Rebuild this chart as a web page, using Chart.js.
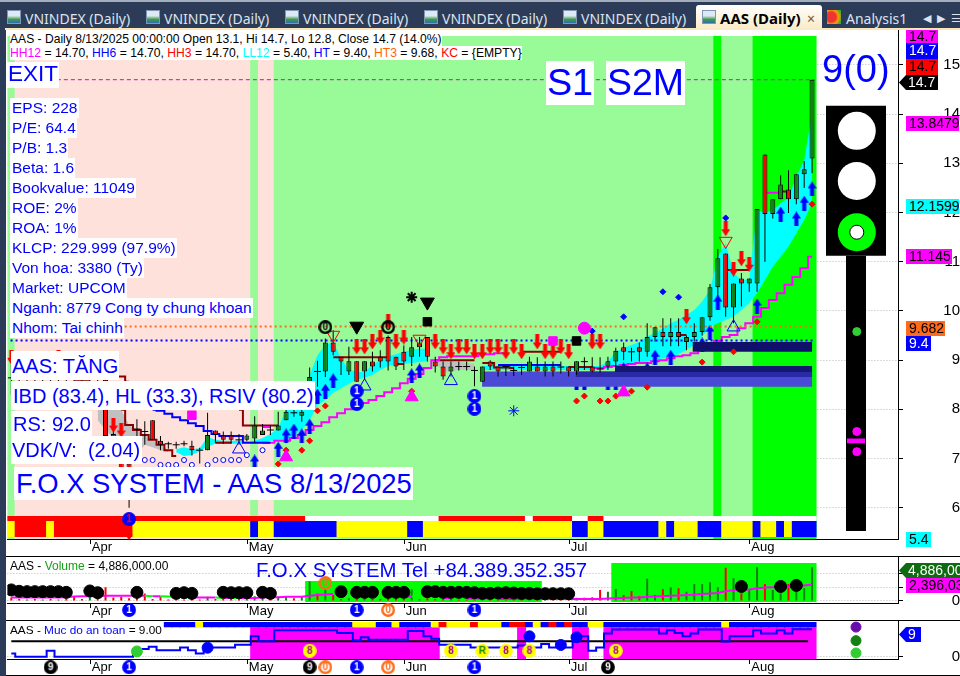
<!DOCTYPE html>
<html>
<head>
<meta charset="utf-8">
<title>AAS (Daily)</title>
<script src="https://cdn.jsdelivr.net/npm/chart.js@4"></script>
<style>
html, body { margin: 0; padding: 0; }
body { width: 960px; height: 676px; background: #2c3b57; overflow: hidden; position: relative; font-family: "Liberation Sans", Arial, sans-serif; }
canvas { position: absolute; left: 0; }
#panel { position: absolute; left: 6px; top: 30px; width: 954px; height: 646px; background: #fff; }
#topline { position: absolute; left: 0; top: 0; width: 960px; height: 2px; background: #a4adbb; }
#cream { position: absolute; left: 5px; top: 28px; width: 955px; height: 2px; background: #fbe6b8; }
.sep { position: absolute; left: 6px; width: 954px; height: 1px; background: #000; }
.tab { position: absolute; top: 9px; font: 14px "Noto Sans", sans-serif; color: #dce3ee; white-space: nowrap; }
.ico { position: absolute; top: 10px; width: 14px; height: 14px; background: linear-gradient(#dfe9f5 40%, #3f9a4a 70%, #2a6fb5); border: 1px solid #7f97b5; box-sizing: border-box; }
#active { position: absolute; left: 696px; top: 5px; width: 126px; height: 25px; background: linear-gradient(#fff, #fbe9c4); border-radius: 3px 3px 0 0; }
.t { position: absolute; background: #fff; color: #0000ff; white-space: nowrap; line-height: 1; z-index: 5; }
.m { font-size: 15.5px; left: 10px; padding: 2px 1px 2px 2px; height: 16px; }
.b { font-size: 20px; left: 11px; }
.head { position: absolute; left: 10px; background: #fff; color: #000; line-height: 14px; height: 14px; white-space: nowrap; z-index: 5; }
.leg { position: absolute; left: 10px; color: #000; font-size: 12px; line-height: 14px; white-space: nowrap; z-index: 5; }
.tag { position: absolute; left: 906px; font-size: 14px; line-height: 15px; height: 15px; text-align: left; padding-left: 3px; box-sizing: border-box; white-space: nowrap; overflow: hidden; z-index: 6; }
.ptr { left: 899px; padding-left: 9px; clip-path: polygon(0 50%, 7px 0, 100% 0, 100% 100%, 7px 100%); }
</style>
</head>
<body>
<div id="topline"></div>
<div id="panel"></div>
<div id="cream"></div>

<div class="ico" style="left:7px"></div><div class="tab" style="left:25px">VNINDEX (Daily)</div>
<div class="ico" style="left:146px"></div><div class="tab" style="left:164px">VNINDEX (Daily)</div>
<div class="ico" style="left:285px"></div><div class="tab" style="left:303px">VNINDEX (Daily)</div>
<div class="ico" style="left:424px"></div><div class="tab" style="left:442px">VNINDEX (Daily)</div>
<div class="ico" style="left:563px"></div><div class="tab" style="left:581px">VNINDEX (Daily)</div>
<div id="active"></div>
<div class="ico" style="left:702px"></div><div class="tab" style="left:720px;top:8px;font-size:15px;color:#000;font-weight:bold">AAS (Daily)</div>
<div class="tab" style="left:807px;color:#6a5a40">×</div>
<div class="ico" style="left:827px;background:radial-gradient(circle at 30% 50%,#e33 40%,#f90 60%,#3a3 90%);border:0"></div>
<div class="tab" style="left:846px">Analysis1</div>
<div class="tab" style="left:923px;font-size:11px;top:10px">◀</div>
<div class="tab" style="left:937px;font-size:11px;top:10px">▶</div>
<div class="tab" style="left:951px;font-size:11px;top:10px">☰</div>

<canvas id="mainChart" width="960" height="526" style="top:30px"></canvas>
<canvas id="volChart" width="960" height="64" style="top:556px"></canvas>
<canvas id="safeChart" width="960" height="56" style="top:620px"></canvas>

<div class="sep" style="top:556px"></div>
<div class="sep" style="top:620px"></div>
<div class="sep" style="top:675px"></div>

<div class="head" style="top:32px;font-size:12.1px">AAS - Daily 8/13/2025 00:00:00 Open 13.1, Hi 14.7, Lo 12.8, Close 14.7 (14.0%)</div>
<div class="head" style="top:46px;font-size:12.15px"><span style="color:#f0f">HH12</span> = 14.70, <span style="color:#00f">HH6</span> = 14.70, <span style="color:#f00">HH3</span> = 14.70, <span style="color:#0ff">LL12</span> = 5.40, <span style="color:#00f">HT</span> = 9.40, <span style="color:#f60">HT3</span> = 9.68, <span style="color:#f00">KC</span> = {EMPTY}</div>

<div class="t" style="left:7px;top:62px;font-size:22.5px;padding:1px 1px 2px 1px">EXIT</div>
<div class="t m" style="top:98px">EPS: 228</div>
<div class="t m" style="top:118px">P/E: 64.4</div>
<div class="t m" style="top:138px">P/B: 1.3</div>
<div class="t m" style="top:158px">Beta: 1.6</div>
<div class="t m" style="top:178px">Bookvalue: 11049</div>
<div class="t m" style="top:198px">ROE: 2%</div>
<div class="t m" style="top:218px">ROA: 1%</div>
<div class="t m" style="top:238px">KLCP: 229.999 (97.9%)</div>
<div class="t m" style="top:258px">Von hoa: 3380 (Ty)</div>
<div class="t m" style="top:278px">Market: UPCOM</div>
<div class="t m" style="top:298px">Nganh: 8779 Cong ty chung khoan</div>
<div class="t m" style="top:318px">Nhom: Tai chinh</div>
<div class="t b" style="top:351px;padding:5px 1px 4px 1px">AAS: TĂNG</div>
<div class="t b" style="top:381px;padding:5px 2px 4px 2px">IBD (83.4), HL (33.3), RSIV (80.2)</div>
<div class="t b" style="top:411px;padding:3px 1px 3px 2px">RS: 92.0</div>
<div class="t b" style="top:436px;padding:4px 2px 4px 1px">VDK/V:&nbsp; (2.04)</div>
<div class="t" style="left:14px;top:467px;font-size:27.4px;padding:3px 1px 3px 2px">F.O.X SYSTEM - AAS 8/13/2025</div>
<div class="t" style="left:546px;top:61px;font-size:37.5px;padding:3px 1px">S1</div>
<div class="t" style="left:606px;top:61px;font-size:37.5px;padding:3px 1px">S2M</div>
<div class="t" style="left:822px;top:50px;font-size:38px;background:none">9(0)</div>

<div class="leg" style="top:559px">AAS - <span style="color:#16a016">Volume</span> = 4,886,000.00</div>
<div class="t" style="left:256px;top:560px;font-size:20.4px;background:none">F.O.X SYSTEM Tel +84.389.352.357</div>
<div class="leg" style="top:623px;font-size:11.8px">AAS - <span style="color:#00f">Muc do an toan</span> = 9.00</div>

<div class="tag" style="top:30px;width:32px;height:13px;line-height:13px;background:#f0f;color:#000">14.7</div>
<div class="tag" style="top:43px;width:32px;height:16px;background:#00f;color:#fff">14.7</div>
<div class="tag" style="top:59px;width:32px;height:16px;background:#f00;color:#000">14.7</div>
<div class="tag ptr" style="top:75px;width:39px;background:#000;color:#fff">14.7</div>
<div class="tag" style="top:116px;width:53px;background:#f0f;color:#000">13.8479</div>
<div class="tag" style="top:199px;width:53px;background:#0ff;color:#000">12.1599</div>
<div class="tag" style="top:249px;width:46px;background:#f0f;color:#000">11.145</div>
<div class="tag" style="top:321px;width:39px;background:#ff6a1a;color:#000">9.682</div>
<div class="tag" style="top:336px;width:25px;background:#00f;color:#fff">9.4</div>
<div class="tag" style="top:532px;width:25px;background:#0ff;color:#000">5.4</div>
<div class="tag ptr" style="top:563px;width:61px;background:#0f6b0f;color:#fff">4,886,000</div>
<div class="tag" style="top:578px;width:54px;background:#f0f;color:#000">2,396,030</div>
<div class="tag ptr" style="top:627px;width:22px;background:#00f;color:#fff">9</div>

<script>
// month axis, one trading bar per index
const monthIdx = [10, 30, 50, 71, 94];
const monthNames = ["Apr", "May", "Jun", "Jul", "Aug"];

const opens = [8.64,8.75,8.6,8.7,8.6,8.7,8.62,8.72,8.65,8.7,8.6,8.7,8.6,7.5,7.2,6.9,7.6,7.55,7.78,7.36,7.3,7.28,7.3,7.26,7.17,7.17,7.57,7.47,7.47,7.38,7.38,7.41,7.48,7.58,7.57,7.78,7.93,7.87,8.56,8.77,8.77,9.36,9.07,8.77,8.98,8.77,8.97,9.07,9.47,9.07,9.17,9.07,9.26,9.47,8.97,8.87,8.77,8.87,8.87,8.79,8.56,8.97,8.87,8.87,8.79,8.85,8.77,8.87,8.77,8.87,8.86,8.87,8.77,8.97,8.87,8.82,8.87,8.97,9.26,9.17,9.26,9.17,9.47,9.57,9.47,9.57,9.37,9.47,9.57,9.87,10.48,11.17,10.07,10.66,10.56,10.56,13.18,11.97,12.27,12.47,12.27,12.78,13.1];
const closes = [8.64,8.6,8.7,8.6,8.7,8.62,8.72,8.6,8.6,8.6,8.7,8.6,7.46,7.2,6.77,6.35,7.6,7.55,7.38,7.28,7.3,7.28,7.3,7.17,7.17,7.48,7.48,7.38,7.38,7.38,7.47,7.67,7.57,7.58,7.67,7.95,7.93,7.95,8.66,8.77,9.36,9.17,8.97,8.98,8.56,8.98,8.87,8.97,8.97,8.87,8.97,9.26,9.36,9.07,8.87,8.67,8.87,8.87,8.87,8.79,8.87,8.87,8.77,8.87,8.79,8.85,8.97,8.77,8.87,8.77,8.86,8.77,8.98,8.97,8.77,8.82,8.98,9.19,9.17,9.17,9.17,9.47,9.67,9.47,9.57,9.47,9.47,9.57,9.87,10.48,11.07,10.07,10.56,10.56,10.66,12.07,11.97,12.27,12.57,12.27,12.78,12.88,14.7];
const highs = [9.0,8.9,8.8,8.8,8.8,8.8,8.8,8.8,8.75,8.8,8.8,8.8,8.7,7.6,7.3,7.0,7.8,7.76,7.78,7.46,7.34,7.34,7.36,7.36,7.22,7.93,7.57,7.55,7.55,7.5,7.5,7.86,7.7,7.68,7.95,8.13,8.1,8.1,8.85,8.99,9.44,9.61,9.07,9.27,8.98,8.98,9.17,9.2,9.5,9.07,9.3,9.47,9.47,9.47,9.07,8.97,8.97,8.97,8.97,8.87,8.87,9.0,8.87,8.87,8.87,8.9,9.07,9.06,8.97,8.97,8.97,8.87,8.98,9.06,9.06,9.06,9.07,9.25,9.36,9.25,9.36,9.75,9.67,9.85,9.85,9.85,9.5,9.75,9.87,10.55,11.26,11.17,10.56,10.77,10.66,12.07,13.18,12.27,12.76,12.86,12.78,13.05,14.7];
const lows = [8.3,8.5,8.5,8.5,8.5,8.5,8.5,8.5,8.5,8.5,8.5,8.5,7.4,7.1,6.7,6.0,7.4,7.28,7.38,7.17,7.2,7.2,7.25,7.06,6.9,7.17,7.32,7.3,7.3,7.28,7.35,7.32,7.48,7.48,7.57,7.78,7.85,7.75,8.4,8.46,8.66,9.1,8.7,8.7,8.56,8.6,8.77,8.85,8.79,8.8,8.8,8.88,9.07,8.97,8.75,8.6,8.67,8.79,8.79,8.47,8.56,8.8,8.67,8.68,8.68,8.7,8.77,8.77,8.67,8.67,8.73,8.67,8.7,8.8,8.75,8.75,8.8,8.87,9.0,8.97,8.97,9.07,9.38,9.28,9.28,9.28,9.2,9.38,9.5,9.8,10.3,9.88,9.75,10.09,10.39,10.39,11.0,11.88,12.27,11.99,12.17,12.5,12.8];

// regime colours per bar as runs of [code, count]
const zoneRuns = [["L",1],["P",30],["L",1],["P",2],["L",56],["G",1],["L",4],["G",8]];
const trendRuns = [["r",38],["w",17],["r",11],["w",1],["r",5],["w",2],["r",2],["w",27]];
const stateRuns = [["y",1],["r",4],["y",1],["r",10],["y",15],["b",1],["y",2],["b",8],["y",9],["b",2],["y",19],["b",2],["y",2],["b",7],["y",1],["b",1],["y",3],["b",3],["y",4],["b",1],["y",2],["b",1],["y",1],["b",3]];
const safeRuns = [["b",4],["y",1],["b",19],["y",3],["b",2],["y",1],["b",4],["y",1],["r",1],["y",3],["r",1],["y",3],["b",1],["r",2],["b",1],["y",1],["b",1],["r",1],["b",1],["r",1],["b",2],["y",2],["b",15],["y",1],["b",11]];
const safeRunsStart = 20;

// bands
const cyanAStart = 21;
const cyanAUpper = [7.19,7.23,7.19,7.21,7.44,7.38,7.36,7.36,7.36,7.34,7.36,7.42,7.5,7.62,7.99,8.09,8.29,8.7,9.1,9.31,9.37,9.04,8.8,8.76,8.76,8.9,9.0,9.08,9.12,9.17,9.21,9.23,9.23];
const cyanALower = [7.13,7.05,7.07,7.15,7.25,7.3,7.3,7.3,7.3,7.32,7.3,7.32,7.36,7.36,7.38,7.48,7.58,7.78,8.09,8.19,8.33,8.43,8.52,8.6,8.64,8.7,8.8,8.88,8.9,8.92,8.94,8.96,8.98];
const cyanBStart = 60;
const cyanBUpper = [8.88,8.88,8.88,8.88,8.88,8.88,8.88,8.88,8.88,8.88,8.88,8.88,8.88,8.88,8.88,8.88,8.97,9.17,9.25,9.31,9.37,9.48,9.55,9.65,9.75,9.82,9.92,10.02,10.19,10.43,11.1,11.38,10.77,10.63,10.63,12.05,11.99,12.05,12.19,12.3,12.73,13.07,14.02];
const cyanBLower = [8.8,8.8,8.8,8.8,8.8,8.8,8.8,8.8,8.8,8.8,8.8,8.8,8.8,8.8,8.8,8.8,8.82,8.87,8.9,8.92,8.94,8.97,9.0,9.04,9.08,9.12,9.21,9.31,9.48,9.68,9.75,9.82,9.88,10.02,10.16,10.36,10.63,10.9,11.1,11.31,11.58,11.85,12.19];
const grayAStart = 11;
const grayAUpper = [7.99,7.99,7.99,7.99,7.68,7.58,7.48,7.38,7.28,7.17];
const grayALower = [7.78,7.58,7.42,7.28,7.07,7.07,7.28,7.23,7.17,7.13];
const grayBStart = 54;
const grayBUpper = [9.0,8.98,8.98,8.96,8.94,8.92];
const grayBLower = [8.96,8.76,8.78,8.8,8.8,8.8];

// lines as [first index, values]
const brownSegments = [
    [8, [8.6,8.6,8.6]], [13, [8.76,8.67,8.56]], [14, [7.99,7.68,7.58,7.48,7.38,7.28,7.17,7.05]],
    [26, [7.32,7.32,7.32]], [29, [7.99,7.67,7.67,7.67,7.67,7.67]],
    [41, [9.06,9.06,9.06,9.06,9.06,9.06,9.06,9.06]], [49, [8.92,8.92]],
    [54, [9.0,9.0,9.0,9.0,9.0,9.0]], [60, [8.94,8.94,8.85,8.85,8.84]],
    [65, [9.17,9.17,9.17,9.17,9.17,9.17]], [71, [8.86,8.86,8.86,8.86]],
    [85, [9.51,9.51]], [91, [10.83,10.83,10.83,10.83]], [98, [12.43,12.43]],
];
const magentaSegments = [
    [32, [7.32,7.32,7.36,7.36,7.42,7.48,7.58,7.66,7.74,7.84,7.92,8.0,8.08,8.13,8.19,8.27,8.35,8.43,8.53,8.62,8.72,8.84,9.0,9.06,9.08,9.08,9.08,9.08,9.12,9.12,9.14,9.14]],
    [74, [8.84,8.84,8.86,8.88,8.9,8.92,8.94,8.94,8.98,9.0,9.04,9.08,9.1,9.14,9.21,9.31,9.39,9.47,9.51,9.65,9.75,9.88,10.06,10.22,10.36,10.53,10.69,10.87,11.1]],
    [96, [12.4,12.4,12.4]], [32, [7.64,7.64]],
];
const blueSegments = [
    [18, [7.99,7.97,7.91,7.84,7.78,7.72,7.66,7.56,7.5,7.46,7.46,7.46,7.32,7.32,7.32,7.32]],
    [62, [8.9,8.9,8.9,8.9,8.9,8.9,8.9,8.9,8.9]],
];

// support zones [first index, low, high]
const zoneLight = [59.97, 8.46, 8.77];
const zoneMid = [71.9, 8.66, 8.77];
const zoneDark = [76.9, 8.76, 8.88];
const zoneTop = [86.8, 9.17, 9.37];
const lastBar = 102;

// markers: index list and price list
const upIdx = [31,34,35,36,37,38,39,40,41,51,52,72,73,76,77,78,81,82,84,88,89,90,95,98,100,101,102];
const upVal = [6.93,7.19,7.46,7.56,7.46,7.66,8.27,8.37,8.58,8.68,8.78,8.54,8.54,8.54,8.54,8.8,8.8,9.06,9.06,9.31,9.57,10.18,10.1,11.97,11.87,12.19,12.48];
const downIdx = [0,6,13,14,44,45,46,47,48,49,50,54,55,56,57,58,59,60,61,62,63,64,65,67,68,69,70,71,74,75,86,91,92,93,94];
const downVal = [9.06,9.06,7.68,7.58,9.27,9.27,9.37,9.47,9.78,9.37,9.47,9.37,9.27,9.17,9.27,9.27,9.17,9.17,9.27,9.27,9.17,9.27,9.17,9.37,9.17,9.17,9.27,9.17,9.37,9.37,9.88,11.67,10.85,11.06,10.95];
const redDiaIdx = [34,35,37,38,39,40,51,72,73,75,76,77,79,81,88,92,95,102];
const redDiaVal = [6.89,7.17,7.17,7.36,7.97,8.07,8.37,8.17,8.27,8.17,8.17,8.27,8.37,8.45,8.96,9.17,9.78,12.17];
const blueDiaIdx = [74,78,83,85,91];
const blueDiaVal = [9.59,9.88,10.39,10.28,11.89];
const ringIdx = [17,18,19,20,21,22,23,25,26,27,28,29,30,32];
const ringVal = [6.97,6.97,6.87,6.87,6.87,6.97,6.87,6.87,6.97,6.97,6.97,6.97,7.07,7.17];
const hollowUpIdx = [29,45,56,92];
const hollowUpVal = [7.19,8.47,8.58,9.67];
const pinkUpIdx = [35,51,78];
const pinkUpVal = [7.03,8.25,8.35];
const hollowDownIdx = [41,52,91];
const hollowDownVal = [9.51,9.43,11.42];
const blackDownIdx = [44,53];
const blackDownVal = [9.69,10.18];
const blackSqIdx = [53,72];
const blackSqVal = [9.78,9.39];
const pinkSqIdx = [23,69];
const pinkSqVal = [7.88,9.39];
const ringOneIdx = [44,44,59,59];
const ringOneVal = [8.37,8.11,8.27,8.01];
const zeroIdx = [40,48];
const zeroVal = [9.67,9.67];

// signal column beside the axis
const lightX = 107.6;
const lightDotX = 107.7;
const lampVal = [13.66,12.64];
const greenLampVal = 11.6;
const whiteEyeVal = 11.6;
const lightBox = [11.12, 14.17];
const lightPole = [5.53, 11.12];
const poleGreenDot = 9.58;
const polePinkDots = [7.55, 7.14];
const polePinkDash = [7.31, 7.41];

// volume panel, in millions
const volumes = [.5,.3,.2,.3,.2,.3,.2,.4,.7,.3,.6,.6,2,.5,.6,.4,.7,1.1,.3,.6,.2,.2,.2,.4,.2,.6,.3,.3,.3,.3,.3,.7,.3,.7,.6,.6,.4,.7,2.8,1.1,2.8,.9,.3,.4,.5,.5,.3,.3,.5,.4,.3,1.7,.3,.5,.3,.3,.3,.2,.2,.3,.7,.2,.2,.2,.2,.3,.3,.5,.2,.2,.2,.2,.48,.48,.53,1.59,1.35,1.73,.87,1.45,.72,3.2,.87,1.69,1.98,1.83,1.35,2.46,2.46,2.7,1.98,4.82,3.28,1.11,1.59,4.87,2.46,1.59,1.11,2.46,1.35,1.83,4.886];
const volAverage = [.5,.5,.5,.5,.5,.5,.5,.55,.65,.7,.7,.7,.75,.75,.75,.75,.75,.75,.7,.7,.65,.6,.55,.5,.5,.5,.5,.45,.45,.4,.4,.45,.5,.55,.55,.6,.6,.6,.75,.85,.95,1.0,.95,.9,.85,.8,.75,.7,.65,.6,.6,.65,.6,.55,.5,.45,.45,.4,.35,.35,.35,.35,.3,.3,.3,.3,.3,.3,.3,.3,.3,.3,.3,.3,.3,.3,.35,.4,.45,.5,.5,.6,.65,.7,.75,.8,.85,.9,1.0,1.1,1.15,1.4,1.55,1.6,1.65,1.85,1.95,2.0,2.0,2.05,2.1,2.25,2.396];
const dotIdx = [0,1,2,3,4,5,6,7,10,11,16,21,22,23,27,28,29,30,32,33,42,44,45,46,48,49,50,53,54,55,56,57,58,59,60,61,62,63,64,65,66,67,68,69,70,71,93,98,100];
const dotVal = [1.6,1.4,1.35,1.35,1.35,1.35,1.35,1.25,1.45,1.2,1.25,1.1,1.2,1.1,1.25,1.2,1.2,1.2,1.25,1.1,1.35,1.25,1.25,1.25,1.25,1.25,1.25,1.35,1.35,1.25,1.25,1.25,1.25,1.2,1.1,1.1,1.15,1.2,1.15,1.1,1.1,1.05,1.05,1.05,1.05,1.05,2.1,2.1,2.25];
const volBackA = [38, 67, -0.14, 2.89];
const volBackB = [77, 102, -0.14, 5.49];

// safety panel
const safety = [1.1,.1,.1,.1,.1,2,.1,.1,.1,.1,.1,.1,.1,.1,.1,.1,2.6,2.6,3.3,2.2,2.2,2.2,3.1,2.2,1.1,3.1,3.1,3.1,3.1,4,4,6.7,5.1,5.1,8.7,8.7,8.7,8.7,8.7,8.7,8.7,8.7,7.8,7.8,5.4,6.4,5.6,5.6,5.6,5.6,5.6,8.4,8.4,6.7,5.9,4,4,4,4,3.1,3.1,3.1,3.1,3.1,3.1,3.7,3.1,3.1,4.2,3.1,3.1,3.1,6.7,6.7,2,3.1,7.6,8.9,8.9,8.9,8.9,8.9,8.9,7.6,8.7,7.8,6.7,7.6,8.9,8.9,8.9,5,6.7,6.7,6.7,8.7,7.6,7.6,8.7,7.6,9,9,9];
const safeLevel = 5.1;
const safeBlocks = [[31,54],[65,65],[72,73],[76,102]];
const eightIdx = [38,56,63,66,77];
const greenBallIdx = [16];
const greenBallVal = [1.8];
const blueBallIdx = [25,66,70,72];
const blueBallVal = [3,6.7,3.9,6.4];
const legendDotVal = [9.7,5.3,1.3];

const C = {
    pink: "#ffe1dc", pale: "#98fb98", lime: "#00ff00", red: "#ff0000", blue: "#0000ff",
    yellow: "#ffff00", white: "#ffffff", cyan: "#00ffff", gray: "#c0c0c0", magenta: "#ff00ff",
    brown: "#8b0000", green: "#128012", black: "#000000", orange: "#ff6a1a",
};
const runColors = { L: C.pale, P: C.pink, G: C.lime, r: C.red, w: C.white, y: C.yellow, b: C.blue };
// bars of one strip overlap a little so no seam shows between them
const stripWidth = 9;

function expand(runs) {
    const out = [];
    runs.forEach(([code, n]) => { for (let i = 0; i < n; i++) out.push(runColors[code]); });
    return out;
}

function pairs(idx, vals) {
    return idx.map((x, k) => ({ x, y: vals[k] }));
}

function run(start, vals) {
    return vals.map((y, k) => ({ x: start + k, y }));
}

function barSet(data, width, color, extra) {
    return Object.assign({ type: "bar", data, barThickness: width, grouped: false, backgroundColor: color, borderWidth: 0, inflateAmount: 0 }, extra);
}

function lineSet(data, color, width, extra) {
    return Object.assign({ type: "line", data, borderColor: color, borderWidth: width, pointRadius: 0, fill: false, tension: 0, borderCapStyle: "butt" }, extra);
}

function marks(data, style, radius, fill, border, extra) {
    return Object.assign({ type: "scatter", data, pointStyle: style, pointRadius: radius, backgroundColor: fill, borderColor: border || fill, borderWidth: 1, showLine: false }, extra);
}

// two lines, the first filled down to the second
function band(start, upper, lower, color) {
    return [
        lineSet(run(start, upper), "transparent", 0, { fill: "+1", backgroundColor: color }),
        lineSet(run(start, lower), "transparent", 0),
    ];
}

// thick flat line used as a horizontal zone
function zone(z, color) {
    const mid = (z[1] + z[2]) / 2;
    return lineSet([{ x: z[0], y: mid }, { x: lastBar, y: mid }], color, 1, { zoneSpan: [z[1], z[2]] });
}

function arrowImage(color, up) {
    const c = document.createElement("canvas");
    c.width = 9; c.height = 15;
    const g = c.getContext("2d");
    g.fillStyle = color;
    g.beginPath();
    if (up) {
        g.moveTo(4.5, 0); g.lineTo(9, 7); g.lineTo(6.5, 7); g.lineTo(6.5, 15); g.lineTo(2.5, 15); g.lineTo(2.5, 7); g.lineTo(0, 7);
    } else {
        g.moveTo(4.5, 15); g.lineTo(9, 8); g.lineTo(6.5, 8); g.lineTo(6.5, 0); g.lineTo(2.5, 0); g.lineTo(2.5, 8); g.lineTo(0, 8);
    }
    g.closePath();
    g.fill();
    return c;
}

function badge(text, fill, ring, ink) {
    const c = document.createElement("canvas");
    c.width = 14; c.height = 14;
    const g = c.getContext("2d");
    g.beginPath();
    g.arc(7, 7, 5.7, 0, Math.PI * 2);
    g.fillStyle = fill;
    g.fill();
    g.lineWidth = 2.4;
    g.strokeStyle = ring;
    g.stroke();
    g.fillStyle = ink;
    g.font = "bold 10px 'Liberation Sans'";
    g.textAlign = "center";
    g.textBaseline = "middle";
    g.fillText(text, 7, 7.5);
    return c;
}

// later entries draw on top; the library puts lower order on top
function layered(list) {
    list.forEach((d, k) => { d.order = list.length - k; });
    return list;
}

function xScale() {
    return {
        type: "linear", min: -0.5, max: 112.95, offset: false,
        grid: { display: false, offset: false, drawTicks: false },
        border: { display: true, color: C.black },
        afterBuildTicks: (s) => { s.ticks = monthIdx.map((value) => ({ value })); },
        afterFit: (s) => { s.height = 17; s.paddingLeft = 0; s.paddingRight = 0; },
        ticks: {
            autoSkip: false, maxRotation: 0, minRotation: 0, align: "start", labelOffset: 2, padding: 1,
            color: C.black, font: { family: "'Liberation Sans'", size: 13 },
            callback: (v) => monthNames[monthIdx.indexOf(v)] || "",
        },
    };
}

function yScale(min, max, tickVals, label) {
    return {
        type: "linear", position: "right", min, max, beginAtZero: false,
        grid: { color: "#b8b8b8", tickColor: C.black, tickLength: 5, lineWidth: 1 },
        border: { color: C.black, dash: [1, 2] },
        afterBuildTicks: (s) => { s.ticks = tickVals.map((value) => ({ value })); },
        afterFit: (s) => { s.width = 62; s.paddingTop = 0; s.paddingBottom = 0; },
        ticks: {
            crossAlign: "far", padding: 38, autoSkip: false, color: C.black,
            font: { family: "'Liberation Sans'", size: 15 }, callback: label,
        },
    };
}

// draws tick marks of the month axis and turns flat lines into zone rectangles
const panelExtras = {
    id: "panelExtras",
    afterDatasetsDraw(chart) {
        const x = chart.scales.x;
        const g = chart.ctx;
        g.save();
        g.strokeStyle = C.black;
        g.lineWidth = 1;
        monthIdx.forEach((v) => {
            const px = Math.round(x.getPixelForValue(v)) + 0.5;
            g.beginPath();
            g.moveTo(px, chart.chartArea.bottom);
            g.lineTo(px, chart.chartArea.bottom + 5);
            g.stroke();
        });
        g.restore();
    },
    beforeDatasetUpdate(chart, args) {
        const d = args.meta.controller.getDataset();
        if (d.zoneSpan) {
            const y = chart.scales.y;
            d.borderWidth = Math.abs(y.getPixelForValue(d.zoneSpan[0]) - y.getPixelForValue(d.zoneSpan[1]));
        }
    },
};

function options(yCfg) {
    return {
        responsive: false, animation: false, devicePixelRatio: 1,
        layout: { autoPadding: false, padding: { left: 7.4, right: 0, top: 0, bottom: 0 } },
        plugins: { legend: { display: false }, tooltip: { enabled: false } },
        events: [],
        scales: { x: xScale(), y: yCfg },
    };
}

function candleSets() {
    const wicks = [], bodies = [], colors = [], dojis = [];
    opens.forEach((o, i) => {
        const c = closes[i];
        wicks.push({ x: i, y: [lows[i], highs[i]] });
        if (o === c) {
            dojis.push({ x: i, y: o });
        } else {
            bodies.push({ x: i, y: [Math.min(o, c), Math.max(o, c)] });
            colors.push(c > o ? C.green : C.red);
        }
    });
    return [
        barSet(wicks, 1, C.black),
        barSet(bodies, 5, colors, { borderColor: C.black, borderWidth: 1, borderSkipped: false }),
        marks(dojis, "line", 3.5, C.black, C.black, { borderWidth: 1 }),
    ];
}

function makeMain() {
    const top = 15.59, bottom = 5.365;
    const zoneColors = expand(zoneRuns);
    const zoneBars = zoneColors.map((_, i) => ({ x: i, y: [bottom, top] }));
    const trendBars = zoneBars.map((b) => ({ x: b.x, y: [5.73, 5.833] }));
    const stateBars = zoneBars.map((b) => ({ x: b.x, y: [5.407, 5.73] }));
    const flat = (x0, v, color, width, dash) => lineSet([{ x: x0, y: v }, { x: lastBar + 0.3, y: v }], color, width, { borderDash: dash });
    const step = { stepped: "middle" };

    const sets = layered([
        barSet(zoneBars, stripWidth, zoneColors),
        ...band(grayAStart, grayAUpper, grayALower, C.gray),
        ...band(cyanAStart, cyanAUpper, cyanALower, C.cyan),
        ...band(grayBStart, grayBUpper, grayBLower, C.gray),
        ...band(cyanBStart, cyanBUpper, cyanBLower, C.cyan),
        ...brownSegments.map(([s, v]) => lineSet(run(s, v), C.brown, 2, step)),
        ...magentaSegments.map(([s, v]) => lineSet(run(s, v), C.magenta, 2, step)),
        ...blueSegments.map(([s, v]) => lineSet(run(s, v), C.blue, 2, step)),
        marks(pairs(upIdx, upVal), arrowImage(C.blue, true), 7, C.blue),
        zone(zoneLight, "#4a4ad6"),
        zone(zoneMid, "#2a2aa6"),
        zone(zoneDark, "#14186e"),
        zone(zoneTop, "#10106a"),
        flat(-0.1, 9.4, C.blue, 2, [2, 3]),
        flat(13.8, 9.682, C.orange, 2, [2, 3]),
        flat(5.8, 14.7, "#c010c0", 1, [4, 3]),
        ...candleSets(),
        barSet(trendBars, stripWidth, expand(trendRuns)),
        barSet(stateBars, stripWidth, expand(stateRuns)),
        marks(pairs(downIdx, downVal), arrowImage(C.red, false), 7, C.red),
        marks(pairs(redDiaIdx, redDiaVal), "rectRot", 3, C.red),
        marks(pairs(blueDiaIdx, blueDiaVal), "rectRot", 3, C.blue),
        marks(pairs(ringIdx, ringVal), "circle", 2.5, C.white, C.blue),
        marks(pairs(hollowUpIdx, hollowUpVal), "triangle", 7.5, "transparent", C.blue),
        marks(pairs(pinkUpIdx, pinkUpVal), "triangle", 7.5, C.magenta),
        marks(pairs(hollowDownIdx, hollowDownVal), "triangle", 7.5, "transparent", C.red, { pointRotation: 180 }),
        marks(pairs(blackDownIdx, blackDownVal), "triangle", 8, C.black, C.black, { pointRotation: 180 }),
        marks(pairs(blackSqIdx, blackSqVal), "rect", 6, C.black),
        marks(pairs(pinkSqIdx, pinkSqVal), "rect", 6, C.magenta),
        marks([{ x: 73, y: 9.65 }], "circle", 6, C.magenta),
        marks([{ x: 51, y: 10.28 }], "star", 5.5, C.black, C.black, { borderWidth: 2 }),
        marks([{ x: 64, y: 7.97 }], "star", 5.5, C.blue, C.blue),
        marks(pairs(ringOneIdx, ringOneVal), badge("1", C.blue, C.blue, C.white), 7, C.blue),
        marks(pairs(zeroIdx, zeroVal), badge("0", "transparent", C.black, C.black), 7, C.black),
        marks([{ x: 15, y: 5.77 }], badge("1", C.blue, C.blue, C.red), 7, C.blue),
        marks([{ x: 15, y: 5.42 }], "triangle", 3.5, C.red, C.red, { pointRotation: 180 }),
        barSet([{ x: lightX, y: lightBox }], 60, C.black),
        barSet([{ x: lightX, y: lightPole }], 20, C.black),
        marks(lampVal.map((y) => ({ x: lightDotX, y })), "circle", 19, C.white, C.white, { borderWidth: 0 }),
        marks([{ x: lightDotX, y: greenLampVal }], "circle", 19, C.lime, C.lime, { borderWidth: 0 }),
        marks([{ x: lightDotX, y: whiteEyeVal }], "circle", 7, C.white, C.black, { borderWidth: 1 }),
        marks([{ x: lightDotX, y: poleGreenDot }], "circle", 4, "#32cd32", "#32cd32"),
        marks(polePinkDots.map((y) => ({ x: lightDotX, y })), "circle", 4, C.magenta),
        barSet([{ x: lightX, y: polePinkDash }], 18, C.magenta),
    ]);

    new Chart(document.getElementById("mainChart"), {
        type: "scatter",
        data: { datasets: sets },
        options: options(yScale(bottom, 15.71, [6, 7, 8, 9, 10, 11, 12, 13, 14, 15], (v) => String(v))),
        plugins: [panelExtras],
    });
}

function makeVolume() {
    const volBars = volumes.map((v, i) => ({ x: i, y: v }));
    const volColors = volumes.map((v, i) => (closes[i] > opens[i] ? C.green : C.red));
    const backBars = (b) => {
        const out = [];
        for (let i = b[0]; i <= b[1]; i++) out.push({ x: i, y: [b[2], b[3]] });
        return out;
    };
    // radius only widens the area check, the badge image keeps its own size
    const under = (idx, v, txt, fill, ring, ink) => marks(idx.map((x) => ({ x, y: v })), badge(txt, fill, ring, ink), 14, ring, ring, { clip: false });

    const sets = layered([
        barSet(backBars(volBackA), stripWidth, C.lime),
        barSet(backBars(volBackB), stripWidth, C.lime),
        barSet(volBars, 2, volColors),
        lineSet(run(0, volAverage), C.magenta, 2, {
            segment: { borderColor: (c) => (c.p1.parsed.y >= c.p0.parsed.y ? C.magenta : C.lime) },
        }),
        marks(pairs(dotIdx, dotVal), "circle", 6, C.black),
        marks([{ x: 40, y: 2.6 }], badge("0", C.lime, C.orange, C.orange), 7, C.orange),
        under([15, 44, 59], -1.3, "1", C.blue, C.blue, C.white),
        under([48], -1.3, "0", C.white, C.orange, C.orange),
    ]);

    new Chart(document.getElementById("volChart"), {
        type: "scatter",
        data: { datasets: sets },
        options: options(yScale(-0.289, 6.5, [0, 2, 4], (v) => (v === 0 ? "0" : ""))),
        plugins: [panelExtras],
    });
}

function makeSafety() {
    const blockBars = [];
    safeBlocks.forEach(([a, b]) => {
        for (let i = a; i <= b; i++) blockBars.push({ x: i, y: [-0.667, 9.67] });
    });
    const stripColors = expand(safeRuns);
    const stripBars = stripColors.map((_, k) => ({ x: safeRunsStart + k, y: [9.67, 11.33] }));
    const under = (idx, txt, fill, ring, ink) => marks(idx.map((x) => ({ x, y: -3.33 })), badge(txt, fill, ring, ink), 14, ring, ring, { clip: false });

    const sets = layered([
        barSet(blockBars, stripWidth, C.magenta),
        barSet(stripBars, stripWidth, stripColors),
        lineSet([{ x: 0, y: safeLevel }, { x: lastBar - 0.5, y: safeLevel }], C.black, 2),
        lineSet(run(0, safety), C.blue, 2, { stepped: "middle" }),
        marks(pairs(greenBallIdx, greenBallVal), "circle", 5.5, "#32cd32"),
        marks(pairs(blueBallIdx, blueBallVal), "circle", 5.5, C.blue),
        marks(eightIdx.map((x) => ({ x, y: 2 })), badge("8", C.yellow, C.yellow, "#a000a0"), 7, C.yellow),
        marks([{ x: 60, y: 2 }], badge("R", C.yellow, C.yellow, "#128012"), 7, C.yellow),
        marks(legendDotVal.map((y) => ({ x: 107.6, y })), "circle", 5, (c) => ["#6a0dad", "#128012", "#32cd32"][c.dataIndex]),
        under([5, 38, 76], "9", C.black, C.black, C.white),
        under([15, 44, 59], "1", C.blue, C.blue, C.white),
        under([40, 48], "0", C.white, C.orange, C.orange),
    ]);

    new Chart(document.getElementById("safeChart"), {
        type: "scatter",
        data: { datasets: sets },
        options: options(yScale(-0.667, 12, [0], () => "0")),
        plugins: [panelExtras],
    });
}

makeMain();
makeVolume();
makeSafety();
</script>
</body>
</html>
